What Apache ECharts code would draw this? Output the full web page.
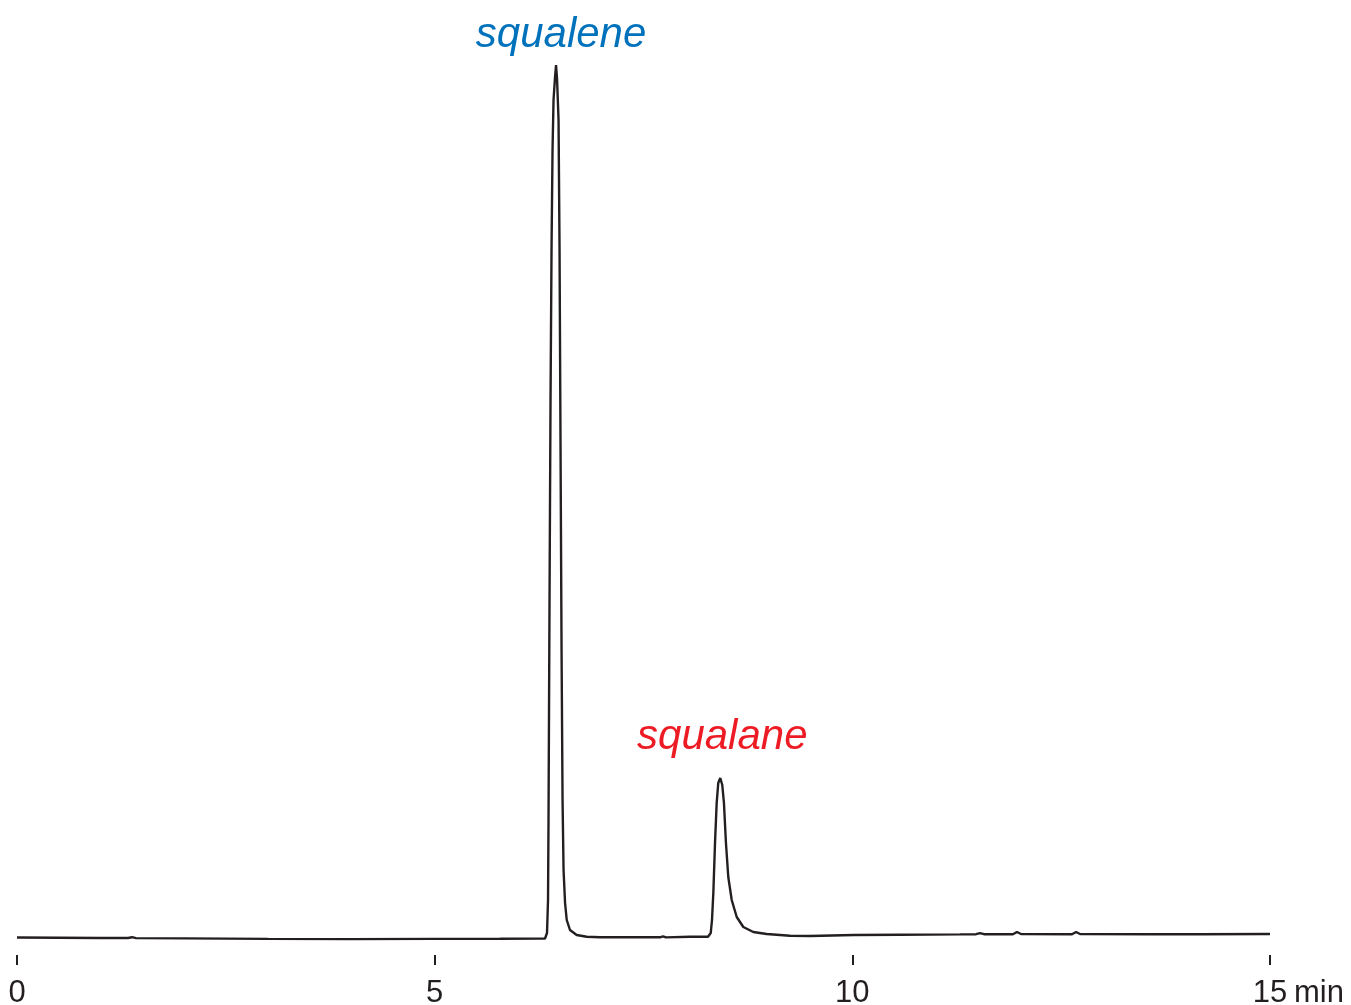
<!DOCTYPE html>
<html>
<head>
<meta charset="utf-8">
<script src="https://cdn.jsdelivr.net/npm/echarts@6/dist/echarts.min.js"></script>
<style>html,body{margin:0;padding:0;background:#fff;}#c{width:1351px;height:1005px;}</style>
</head>
<body>
<div id="c"></div>
<script>
// Retention time (min)
const times = [
  0, 0.503, 0.994, 1.329, 1.377, 1.425, 1.999, 3.005, 3.998, 5.004, 5.782, 6.261, 6.321,
  6.345, 6.357, 6.363, 6.375, 6.387, 6.399, 6.411, 6.423, 6.441, 6.453, 6.465, 6.483, 6.495,
  6.507, 6.519, 6.531, 6.543, 6.561, 6.581, 6.620, 6.700, 6.820, 6.979, 7.219, 7.698, 7.733,
  7.769, 8.057, 8.272,
  8.305, 8.320, 8.336, 8.356, 8.376, 8.395, 8.419, 8.443, 8.463, 8.487, 8.515, 8.556, 8.616,
  8.695, 8.814, 8.975, 9.254, 9.493, 10.020, 10.571, 11.289, 11.481, 11.529, 11.576, 11.923,
  11.971, 12.019, 12.630, 12.678, 12.726, 13.564, 14.162, 15.0
];
// Detector response (arbitrary units)
const signal = [
  17.5, 17.3, 17.0, 17.0, 17.8, 16.9, 16.6, 16.1, 15.9, 16.1, 16.2, 16.4, 16.5,
  22, 55, 135, 355, 555, 705, 805, 855, 878, 890, 876, 835, 705,
  505, 305, 155, 85, 52, 35, 25, 20, 18.3, 17.7, 17.7, 17.7, 18.7,
  17.6, 18.3, 18.3,
  22, 35, 62, 112, 152, 172, 177, 170, 152, 112, 78, 55, 38,
  28, 23, 21, 19.3, 19, 20, 20.3, 20.6, 20.8, 21.8, 20.8, 20.8,
  23, 21, 20.8, 23, 21, 20.8, 20.8, 21
];
const xTicks = [0, 5, 10, 15];
const peakNames = ['squalene', 'squalane'];
const peakTimes = [6.453, 8.419];
const peakHeights = [890, 177];
const peakColors = ['#0072BC', '#ED1C24'];

const data = times.map((t, i) => [t, signal[i]]);
const chart = echarts.init(document.getElementById('c'));
chart.setOption({
  animation: false,
  backgroundColor: '#ffffff',
  grid: { left: 17, right: 81, top: 30, bottom: 50, containLabel: false, outerBoundsMode: 'none' },
  xAxis: {
    type: 'value', min: 0, max: 15, interval: 5,
    name: 'min', nameLocation: 'end', nameGap: 24,
    nameTextStyle: { fontFamily: 'Liberation Sans', fontSize: 31, color: '#231f20', verticalAlign: 'top', align: 'left', padding: [23, 0, 0, 0] },
    axisLine: { show: false },
    axisTick: { show: true, length: 10, lineStyle: { color: '#231f20', width: 2 } },
    axisLabel: { margin: 23, fontFamily: 'Liberation Sans', fontSize: 31, color: '#231f20',
      formatter: v => xTicks.includes(v) ? String(v) : '' },
    splitLine: { show: false }
  },
  yAxis: { type: 'value', min: 0, max: 925, show: false, splitLine: { show: false } },
  series: [{
    type: 'line', data: data, showSymbol: false, smooth: false,
    lineStyle: { color: '#231f20', width: 2.4 },
    markPoint: {
      symbol: 'circle', symbolSize: 1, itemStyle: { color: 'rgba(0,0,0,0)' },
      data: [
        { coord: [peakTimes[0], peakHeights[0]], name: peakNames[0],
          label: { show: true, position: 'inside', offset: [5, -30], formatter: peakNames[0],
            color: peakColors[0], fontSize: 42, fontStyle: 'italic', fontFamily: 'Liberation Sans' } },
        { coord: [peakTimes[1], peakHeights[1]], name: peakNames[1],
          label: { show: true, position: 'inside', offset: [2, -41], formatter: peakNames[1],
            color: peakColors[1], fontSize: 42, fontStyle: 'italic', fontFamily: 'Liberation Sans' } }
      ]
    }
  }]
});
</script>
</body>
</html>
